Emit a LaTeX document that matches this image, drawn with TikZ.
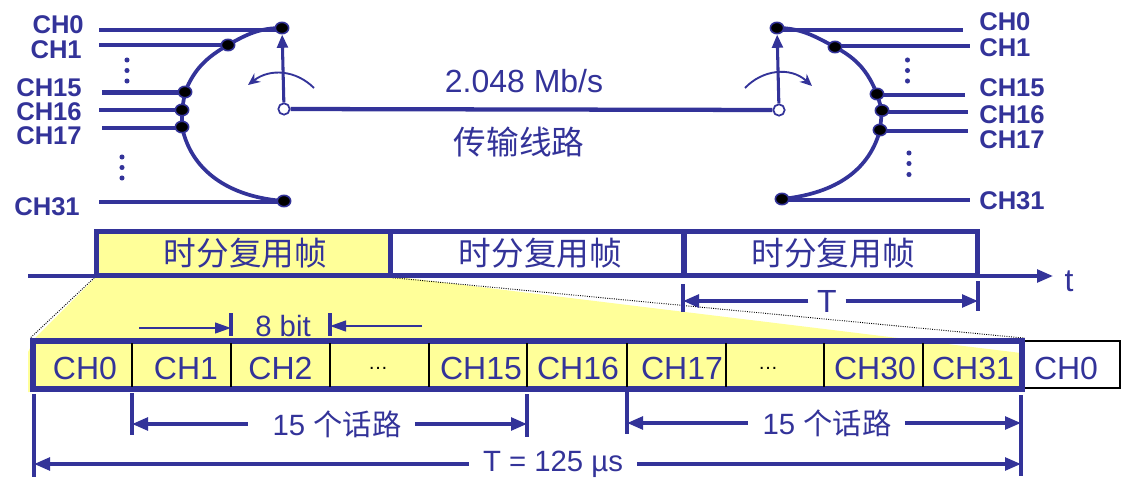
\documentclass[tikz,border=0pt]{standalone}
\usepackage{fontspec}
\setmainfont{Liberation Sans}
\newfontfamily\cjk{Noto Sans CJK SC}
\usetikzlibrary{arrows.meta, backgrounds, shapes.geometric}
\definecolor{linec}{RGB}{51,51,153}
\definecolor{padc}{RGB}{255,255,153}
\begin{document}
\begin{tikzpicture}[x=0.75pt, y=-0.75pt,
  tag/.style={font=\fontsize{19.2}{21}\selectfont\bfseries, text=linec, inner sep=0pt},
  txt/.style={font=\fontsize{24}{28}\selectfont, text=linec, inner sep=0pt},
  txtcn/.style={font=\fontsize{24.5}{28}\selectfont\cjk, text=linec, inner sep=0pt},
  small/.style={font=\fontsize{22}{26}\selectfont, text=linec, inner sep=0pt},
  gap/.style={font=\fontsize{15}{18}\selectfont, text=black, inner sep=0pt},
  frm/.style={txtcn, draw=linec, line width=3.9pt, minimum width=220pt, minimum height=32.5pt},
  wire/.style={draw=linec, line width=3.2pt},
  arc/.style={draw=linec, line width=2.8pt},
  tap/.style={ellipse, draw=linec, fill=black, line width=1.2pt, inner sep=0pt, minimum width=10pt, minimum height=8.5pt},
  hub/.style={circle, draw=linec, fill=white, line width=1.3pt, inner sep=0pt, minimum size=8.5pt},
  dot/.style={circle, fill=linec, inner sep=0pt, minimum size=3.8pt},
  arm/.style={draw=linec, line width=2.3pt, -{Triangle[length=10pt, width=8pt]}},
  turn/.style={draw=linec, line width=1.4pt, -{Stealth[length=9pt, width=8pt]}},
  dim/.style={draw=linec, line width=2.6pt, -{Triangle[length=12pt, width=9.5pt]}},
  thin8/.style={draw=linec, line width=1.7pt, -{Triangle[length=12pt, width=8pt]}},
  tick/.style={draw=linec, line width=2.6pt},
  cell/.style={draw=black, line width=1.5pt}]
\useasboundingbox (0,0) rectangle (1136,478);
% left switch
\node[tap] (l0) at (282,28) {};
\node[tap] (l1) at (228,45) {};
\node[tap] (l15) at (185,92) {};
\node[tap] (l16) at (182,110) {};
\node[tap] (l17) at (182,127) {};
\node[tap] (l31) at (284,201) {};
\node[hub] (hl) at (284,109) {};
\node[tag, anchor=east] (tl0) at (84,25) {CH0};
\node[tag, anchor=east] (tl1) at (82,50) {CH1};
\node[tag, anchor=east] (tl15) at (82,87.5) {CH15};
\node[tag, anchor=east] (tl16) at (82,111.5) {CH16};
\node[tag, anchor=east] (tl17) at (82,135.5) {CH17};
\node[tag, anchor=east] (tl31) at (80,207) {CH31};
\coordinate (wl0) at (99,30);
\coordinate (wl1) at (99,45);
\coordinate (wl15) at (102,92.5);
\coordinate (wl16) at (99,110);
\coordinate (wl17) at (102,128);
\coordinate (wl31) at (99,202);
\begin{scope}[on background layer]
\draw[wire] (wl0) -- (wl0 -| l0);
\draw[wire] (wl1) -- (wl1 -| l1);
\draw[wire] (wl15) -- (wl15 -| l15);
\draw[wire] (wl16) -- (wl16 -| l16);
\draw[wire] (wl17) -- (wl17 -| l17);
\draw[wire] (wl31) -- (wl31 -| l31);
\draw[arc] (l0.center) to[out=180, in=30] (l1.center) to[out=210, in=68] (l15.center) -- (l16.center) -- (l17.center) to[out=-78, in=176] (l31.center);
\end{scope}
\draw[arm] (hl) -- (l0);
\coordinate (tla) at (314,88);
\coordinate (tlb) at (248,85);
\draw[turn] (tla) .. controls (296,70) and (270,68) .. (tlb);
\node[dot] (da1) at (127,60) {};
\node[dot] (da2) at (127,70.5) {};
\node[dot] (da3) at (127,81) {};
\node[dot] (db1) at (122,157) {};
\node[dot] (db2) at (122,167.5) {};
\node[dot] (db3) at (122,178) {};
% right switch
\node[tap] (r0) at (777,28) {};
\node[tap] (r1) at (835,47) {};
\node[tap] (r15) at (877,94) {};
\node[tap] (r16) at (882,110.5) {};
\node[tap] (r17) at (880,130) {};
\node[tap] (r31) at (782,199) {};
\node[hub] (hr) at (779,110) {};
\node[tag, anchor=west] (tr0) at (979,22) {CH0};
\node[tag, anchor=west] (tr1) at (979,48) {CH1};
\node[tag, anchor=west] (tr15) at (979,88) {CH15};
\node[tag, anchor=west] (tr16) at (979,115) {CH16};
\node[tag, anchor=west] (tr17) at (979,140) {CH17};
\node[tag, anchor=west] (tr31) at (979,201) {CH31};
\coordinate (wr0) at (963,30);
\coordinate (wr1) at (970,46);
\coordinate (wr15) at (965,95);
\coordinate (wr16) at (968,112);
\coordinate (wr17) at (968,131);
\coordinate (wr31) at (970,200);
\begin{scope}[on background layer]
\draw[wire] (wr0 -| r0) -- (wr0);
\draw[wire] (wr1 -| r1) -- (wr1);
\draw[wire] (wr15 -| r15) -- (wr15);
\draw[wire] (wr16 -| r16) -- (wr16);
\draw[wire] (wr17 -| r17) -- (wr17);
\draw[wire] (wr31 -| r31) -- (wr31);
\draw[arc] (r0.center) to[out=0, in=152] (r1.center) to[out=-28, in=112] (r15.center) -- (r16.center) -- (r17.center) to[out=-105, in=6] (r31.center);
\end{scope}
\draw[arm] (hr) -- (r0);
\coordinate (tra) at (745,88);
\coordinate (trb) at (812,86);
\draw[turn] (tra) .. controls (762,70) and (790,66) .. (trb);
\node[dot] (dc1) at (907.5,60) {};
\node[dot] (dc2) at (907.5,70.5) {};
\node[dot] (dc3) at (907.5,81) {};
\node[dot] (dd1) at (909,153) {};
\node[dot] (dd2) at (909,163.5) {};
\node[dot] (dd3) at (909,174.5) {};
% line between them
\draw[wire] (hl) -- (hr);
\node[txt] (rate) at (524,81) {2.048 Mb/s};
\node[txtcn] (linkname) at (519,142) {传输线路};
% frames on the time axis
\node[frm, fill=padc] (f1) at (243.5,253.5) {\kern3pt 时分复用帧};
\node[frm] (f2) at (537,253.5) {\kern5pt 时分复用帧};
\node[frm] (f3) at (831,253.5) {\kern3pt 时分复用帧};
\coordinate (axa) at (28,276);
\coordinate (axb) at (1053,276);
\draw[line width=2.4pt, draw=linec] (axa) -- (axa -| f1.south west);
\draw[dim] (axb -| f3.south east) -- (axb);
\node[txt] (tname) at (1069,281) {t};
\coordinate (ta) at (683,284);
\coordinate (tb) at (683,312);
\coordinate (tc) at (978,281);
\coordinate (td) at (978,311);
\draw[tick] (ta) -- (tb);
\draw[tick] (tc) -- (td);
\node[txt] (tper) at (827,301) {T};
\draw[dim, shorten <=6.5pt] (tper) -- (ta |- tper);
\draw[dim, shorten <=6.5pt] (tper) -- (tc |- tper);
% slots of one frame
\node[draw=black, line width=1.8pt, minimum width=73.5pt, minimum height=35.25pt, inner sep=0pt] (next) at (1071,364.5) {};
\node[draw=linec, line width=4.3pt, minimum width=741.75pt, minimum height=36pt, inner sep=0pt] (row) at (527.5,365) {};
\node[txt] (s0) at (85,368) {CH0};
\node[txt] (s1) at (186,368) {CH1};
\node[txt] (s2) at (280.5,368) {CH2};
\node[gap] (s3) at (378,368) {…};
\node[txt] (s15) at (481,368) {CH15};
\node[txt] (s16) at (578,368) {CH16};
\node[txt] (s17) at (682,368) {CH17};
\node[gap] (s18) at (768,368) {…};
\node[txt] (s30) at (875,368) {CH30};
\node[txt] (s31) at (973,368) {CH31};
\node[txt] (s32) at (1066,368) {CH0};
\draw[cell] (132,343) -- (132,387);
\draw[cell] (231,343) -- (231,387);
\draw[cell] (330,343) -- (330,387);
\draw[cell] (429,343) -- (429,387);
\draw[cell] (527,343) -- (527,387);
\draw[cell] (627,343) -- (627,387);
\draw[cell] (726,343) -- (726,387);
\draw[cell] (824,343) -- (824,387);
\draw[cell] (923,343) -- (923,387);
% 8 bit mark
\coordinate (ba) at (231,313);
\coordinate (bb) at (231,336);
\coordinate (bc) at (330,313);
\coordinate (bd) at (330,336);
\coordinate (be) at (139,328);
\coordinate (bf) at (422,326);
\draw[tick] (ba) -- (bb);
\draw[tick] (bc) -- (bd);
\node[small] (bits) at (283,326) {8 bit};
\draw[thin8] (be) -- (be -| ba);
\draw[thin8] (bf) -- (bf -| bc);
% lengths below
\coordinate (ua) at (132,393);
\coordinate (ub) at (132,435);
\coordinate (uc) at (527,394);
\coordinate (ud) at (527,437);
\coordinate (ue) at (627,389);
\coordinate (uf) at (627,434);
\coordinate (ug) at (1021,395);
\coordinate (uh) at (1021,476);
\coordinate (ui) at (34,394);
\coordinate (uj) at (34,477);
\draw[tick] (ua) -- (ub);
\draw[tick] (uc) -- (ud);
\draw[tick] (ue) -- (uf);
\draw[tick] (ug) -- (uh);
\draw[tick] (ui) -- (uj);
\node[small] (ca) at (337,424) {15 {\cjk 个话路}};
\node[small] (cb) at (827,423) {15 {\cjk 个话路}};
\node[small] (whole) at (553,464) {T = 125 µs};
\draw[dim, shorten <=18.5pt] (ca) -- (ca -| ua);
\draw[dim, shorten <=10pt] (ca) -- (ca -| uc);
\draw[dim, shorten <=11pt] (cb) -- (cb -| ue);
\draw[dim, shorten <=10pt] (cb) -- (cb -| ug);
\draw[dim, shorten <=10.5pt] (whole) -- (whole -| ui);
\draw[dim, shorten <=10.5pt] (whole) -- (whole -| ug);
% zoom wedge
\begin{scope}[on background layer]
\fill[padc] (97,276) -- (390,276) -- (1021,353) -- (1021,390) -- (28,392) -- (28,352) -- (36,337) -- cycle;
\draw[densely dotted, line width=0.7pt] (f1.south west) -- (row.north west);
\draw[densely dotted, line width=0.7pt] (f1.south east) -- (row.north east);
\end{scope}
\end{tikzpicture}
\end{document}
